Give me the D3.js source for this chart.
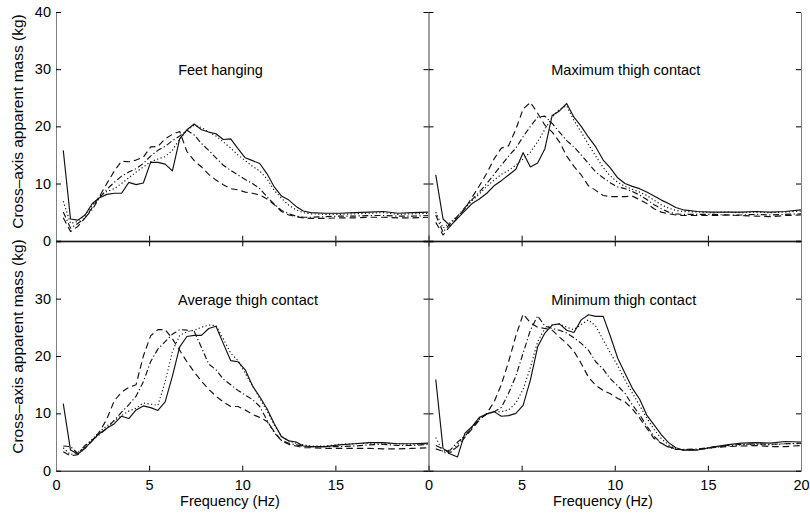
<!DOCTYPE html>
<html><head><meta charset="utf-8">
<script src="https://cdn.jsdelivr.net/npm/d3@7"></script>
<style>
html,body{margin:0;padding:0;background:#fff;}
svg{display:block;}
text{font-family:"Liberation Sans",Arial,Helvetica,sans-serif;fill:#000;}
</style></head><body>
<svg id="chart" width="810" height="514"></svg>
<script>
// ---------- data ----------
const freq = [0.39,0.78,1.17,1.56,1.95,2.34,2.73,3.13,3.52,3.91,4.30,4.69,5.08,5.47,5.86,6.25,6.64,7.03,7.42,7.81,8.20,8.59,8.98,9.38,9.77,10.16,10.55,10.94,11.33,11.72,12.11,12.50,12.89,13.28,13.67,14.45,15.23,16.02,16.80,17.58,18.36,19.14,20.00];

const feetSolid   = [15.8,3.8,3.6,4.5,6.5,7.5,8.1,8.3,8.3,10.2, 9.8,10.1,13.7,13.7,13.4,12.2,17.8,19.4,20.4,19.4, 19.0,18.7,17.7,17.8,16.1,14.5,14.0,13.5,11.7,9.4, 7.8,7.1,6.0,5.2,4.9, 4.8,4.8,4.9,5.0,5.1,4.8,4.9,5.0];
const feetDotted  = [6.9,3.0,3.4,4.5,6.2,7.8,8.6,9.1,10.0,11.0, 12.0,12.9,13.8,14.3,14.7,15.8,17.8,19.3,20.2,19.8, 19.0,18.3,17.3,16.2,15.0,14.0,13.0,12.2,10.8,8.8, 7.4,6.2,5.4,4.9,4.7, 4.6,4.6,4.7,4.8,4.9,4.6,4.7,4.8];
const feetDashDot = [5.0,2.2,3.0,4.0,5.5,7.5,9.0,10.2,11.3,12.0, 12.6,13.5,14.8,15.8,16.5,17.5,18.3,19.3,18.5,17.0, 15.8,14.5,13.2,12.3,11.5,10.7,10.0,9.1,7.7,6.4, 5.3,4.7,4.3,4.1,4.1, 4.2,4.3,4.3,4.4,4.4,4.3,4.3,4.4];
const feetDashed  = [4.0,1.6,2.5,4.0,5.8,7.8,10.0,12.2,13.9,13.8, 14.1,14.6,16.4,16.5,17.8,18.6,19.1,15.6,14.0,12.9, 11.6,10.6,9.8,9.1,8.9,8.5,8.3,8.0,7.3,6.3, 5.1,4.5,4.2,4.0,3.9, 3.9,4.0,4.0,4.1,4.1,4.0,4.0,4.1];

const maxSolid   = [11.5,3.8,2.6,3.9,5.2,6.5,7.3,8.3,9.6,10.5, 11.5,12.5,15.4,12.9,13.6,16.1,21.9,22.7,24.0,21.6, 20.0,18.1,16.4,14.1,12.7,11.0,10.0,9.5,9.1,8.5, 7.8,7.1,6.5,5.8,5.4, 5.1,5.0,5.0,5.0,5.1,5.0,5.1,5.4];
const maxDotted  = [5.0,2.2,3.2,4.3,5.6,7.0,8.2,9.5,10.6,11.6, 12.3,13.2,14.3,15.5,17.3,19.5,21.6,23.0,23.6,21.0, 19.0,16.8,14.8,12.8,11.3,10.2,9.5,9.0,8.5,7.9, 7.1,6.3,5.7,5.3,5.1, 5.0,4.9,5.0,4.9,5.0,4.9,5.0,5.2];
const maxDashDot = [4.5,1.5,3.0,4.3,5.8,7.2,8.5,10.0,11.6,13.2, 14.8,16.2,18.2,20.0,21.6,21.8,20.5,19.0,17.5,16.4, 15.0,13.5,12.0,11.0,10.1,9.4,9.1,8.6,8.0,7.2, 6.3,5.6,5.0,4.7,4.6, 4.6,4.6,4.5,4.5,4.6,4.5,4.6,4.7];
const maxDashed  = [3.2,1.0,2.6,4.0,5.6,7.6,9.6,11.8,14.3,16.2, 16.6,19.5,23.0,24.2,22.3,20.2,19.0,17.3,14.8,13.0, 11.5,9.6,8.8,7.9,7.7,7.7,7.7,7.8,7.2,6.5, 5.6,5.0,4.7,4.5,4.4, 4.4,4.4,4.5,4.4,4.3,4.2,4.4,4.5];

const avgSolid   = [11.7,3.6,2.9,3.9,5.3,6.5,7.4,8.2,9.5,9.1, 10.6,11.3,11.0,10.5,12.0,16.5,21.6,23.4,23.6,23.6, 24.8,25.2,22.2,19.2,19.0,17.6,14.8,12.9,10.8,8.2, 5.9,5.2,5.0,4.3,4.2, 4.2,4.5,4.7,4.9,4.9,4.7,4.7,4.8];
const avgDotted  = [4.0,2.8,3.2,4.2,5.5,6.8,7.8,8.7,9.6,10.4, 10.9,11.8,11.6,11.4,15.5,20.8,23.6,24.2,24.5,25.0, 25.4,25.3,23.0,20.5,19.2,17.0,14.8,12.6,10.4,8.0, 6.0,5.2,4.8,4.5,4.3, 4.3,4.6,4.7,4.8,4.8,4.7,4.6,4.7];
const avgDashDot = [4.3,4.2,3.0,4.4,5.4,6.3,7.4,8.8,10.2,11.5, 13.0,15.5,19.0,21.2,22.5,23.8,24.6,24.5,24.3,21.5, 18.6,17.6,16.0,15.0,14.0,13.2,12.4,11.2,8.8,6.6, 5.3,4.8,4.5,4.3,4.2, 4.2,4.2,4.3,4.5,4.6,4.4,4.4,4.6];
const avgDashed  = [3.3,2.6,2.8,4.0,5.2,6.8,9.0,12.2,13.7,14.5, 15.0,20.0,23.5,24.6,24.6,23.0,21.0,19.0,17.2,15.6, 14.2,13.0,12.0,11.2,11.2,10.6,9.8,9.3,8.6,6.8, 5.2,4.6,4.3,4.0,4.0, 3.9,3.9,3.9,3.9,3.8,3.8,3.9,4.0];

const minSolid   = [15.9,3.9,2.9,2.4,6.5,7.7,9.3,9.9,10.3,9.5, 9.6,10.0,11.4,15.8,21.6,24.0,25.4,25.6,24.5,24.1, 26.3,27.2,26.9,26.9,23.4,19.6,17.0,14.4,12.5,9.7, 8.0,6.3,4.9,4.0,3.6, 3.6,4.1,4.5,4.8,4.9,4.8,5.1,5.0];
const minDotted  = [5.8,3.2,3.0,4.6,6.2,7.6,9.0,9.9,10.2,10.3, 10.6,11.8,14.2,18.0,22.5,24.8,25.4,25.6,25.0,24.6, 25.5,26.3,25.2,22.8,20.5,18.3,15.8,13.6,11.4,9.2, 7.2,5.6,4.5,3.8,3.6, 3.7,4.0,4.3,4.5,4.6,4.5,4.7,4.7];
const minDashDot = [3.8,3.4,3.6,5.0,6.0,7.5,9.0,9.9,10.3,11.0, 13.5,16.5,20.5,24.5,27.0,25.2,24.8,24.5,24.0,23.2, 22.2,21.0,19.0,17.7,16.0,14.8,13.5,11.5,9.8,7.8, 6.0,4.8,4.1,3.7,3.7, 3.8,4.1,4.4,4.6,4.7,4.6,4.7,4.8];
const minDashed  = [4.4,3.8,3.2,4.2,5.8,7.3,8.8,10.0,12.0,15.0, 19.0,23.5,27.3,25.8,25.0,24.8,24.5,23.3,22.2,20.8, 18.7,16.3,14.9,14.0,13.4,12.6,12.0,10.8,9.2,7.4, 5.6,4.8,4.2,3.8,3.6, 3.7,4.0,4.2,4.3,4.4,4.2,4.2,4.4];

const panelTitles = ["Feet hanging","Maximum thigh contact","Average thigh contact","Minimum thigh contact"];
const xTicks = [0,5,10,15,20];
const yTicks = [0,10,20,30,40];
const xLabel = "Frequency (Hz)";
const yLabel = "Cross\u2013axis apparent mass (kg)";

// ---------- layout ----------
const colRange = [[56,428.5],[428.5,801]];
const rowRange = [[240.7,12],[470.7,241.3]];
const titlePos = [[220.5,75.2],[625.8,75.2],[248,305.2],[623.7,304.5]];
const yLabelPos = [121.5,346.5];
const xLabelPos = [230,603];
const styles = [
  {dash:null},
  {dash:"1.2,2.4"},
  {dash:"6,2.5,1.2,2.5"},
  {dash:"6.5,4"}
];
const FS = 14.5;

const panels = [
  {title:panelTitles[0], col:0,row:0, series:[feetSolid,feetDotted,feetDashDot,feetDashed]},
  {title:panelTitles[1], col:1,row:0, series:[maxSolid,maxDotted,maxDashDot,maxDashed]},
  {title:panelTitles[2], col:0,row:1, series:[avgSolid,avgDotted,avgDashDot,avgDashed]},
  {title:panelTitles[3], col:1,row:1, series:[minSolid,minDotted,minDashDot,minDashed]}
];

const svg = d3.select("#chart");
svg.append("rect").attr("width",810).attr("height",514).attr("fill","#fff");

panels.forEach((p,i)=>{
  const x = d3.scaleLinear().domain([0,20]).range(colRange[p.col]);
  const y = d3.scaleLinear().domain([0,40]).range(rowRange[p.row]);
  const clipId = "clip"+i;
  svg.append("clipPath").attr("id",clipId).append("rect")
    .attr("x",x(0)).attr("y",y(40)).attr("width",x(20)-x(0)).attr("height",y(0)-y(40));
  const g = svg.append("g").attr("clip-path",`url(#${clipId})`);
  const line = d3.line().x(d=>x(d[0])).y(d=>y(d[1]));
  p.series.forEach((s,k)=>{
    const pts = freq.map((f,j)=>[f,s[j]]);
    g.append("path").datum(pts).attr("d",line)
      .attr("fill","none").attr("stroke","#111").attr("stroke-width",1.15)
      .attr("stroke-linejoin","round")
      .attr("stroke-dasharray",styles[k].dash);
  });

  // title
  svg.append("text").attr("x",titlePos[i][0]).attr("y",titlePos[i][1])
    .attr("text-anchor","middle").attr("font-size",FS).text(p.title);

  const styleAxis = (ax, domainColor)=>{
    ax.attr("font-family","Liberation Sans, Arial, sans-serif").attr("font-size",FS);
    ax.select(".domain").attr("stroke",domainColor).attr("stroke-width",1);
    ax.selectAll(".tick line").attr("stroke","#000");
    ax.selectAll(".tick text").attr("fill","#000");
  };

  // bottom axis
  const bx = svg.append("g").attr("transform",`translate(0,${y(0)})`)
    .call(d3.axisBottom(x).tickValues(xTicks).tickSize(-5).tickSizeOuter(0).tickPadding(9)
      .tickFormat(d => (p.row===1 && !(p.col===0 && d===20)) ? d : ""));
  styleAxis(bx,"#000");
  // top axis (bottom row only, shared border)
  if(p.row===1){
    const tx = svg.append("g").attr("transform",`translate(0,${y(40)})`)
      .call(d3.axisTop(x).tickValues(xTicks).tickSize(-5).tickSizeOuter(0).tickFormat(""));
    styleAxis(tx,"#000");
  }
  // left axis
  const lx = svg.append("g").attr("transform",`translate(${x(0)},0)`)
    .call(d3.axisLeft(y).tickValues(yTicks).tickSize(-5).tickSizeOuter(0).tickPadding(5)
      .tickFormat(d => (p.col===0 && !(p.row===1 && d===40)) ? d : ""));
  styleAxis(lx,"#808080");
  // right axis
  const rx = svg.append("g").attr("transform",`translate(${x(20)},0)`)
    .call(d3.axisRight(y).tickValues(yTicks).tickSize(-5).tickSizeOuter(0).tickFormat(""));
  styleAxis(rx,"#808080");

  if(p.row===1){
    svg.append("text").attr("x",xLabelPos[p.col]).attr("y",505.5)
      .attr("text-anchor","middle").attr("font-size",FS).text(xLabel);
  }
  if(p.col===0){
    svg.append("text").attr("transform",`translate(23,${yLabelPos[p.row]}) rotate(-90)`)
      .attr("text-anchor","middle").attr("font-size",15.5).text(yLabel);
  }
});
</script>
</body></html>
